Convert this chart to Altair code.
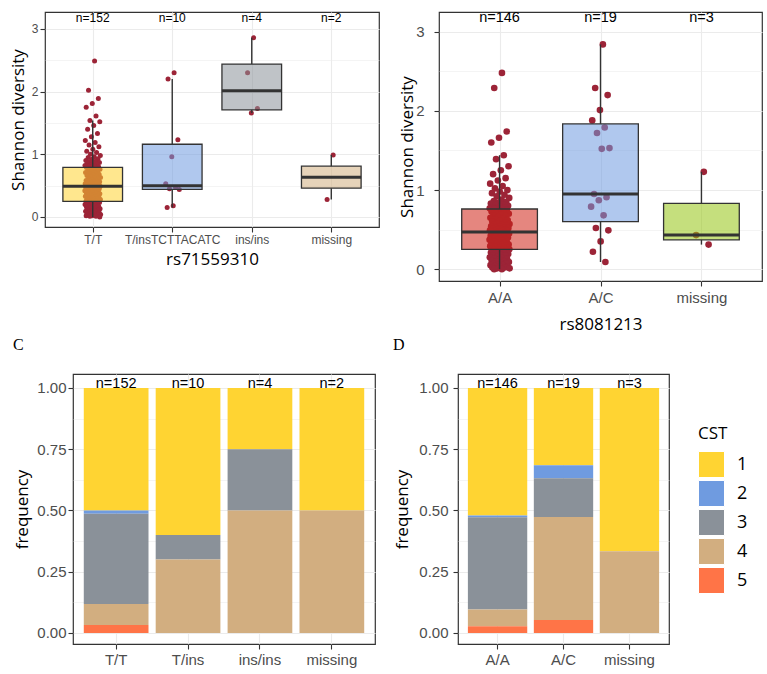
import json

import altair as alt
import pandas as pd

# ---------------- rs71559310 ----------------
snp1_box_levels = ["T/T", "T/insTCTTACATC", "ins/ins", "missing"]
snp1_bar_levels = ["T/T", "T/ins", "ins/ins", "missing"]

shannon_tt = [
    2.49, 2.02, 1.89, 1.81, 1.75, 1.61, 1.54, 1.52, 1.46, 1.40,
    1.33, 1.28, 1.22, 1.19, 1.15, 1.12, 1.08, 1.05, 1.03, 1.00,
    0.98, 0.96, 0.95, 0.93, 0.92, 0.90, 0.89, 0.88, 0.87, 0.86,
    0.85, 0.84, 0.83, 0.82, 0.81, 0.81, 0.80, 0.80,
    0.79, 0.78, 0.77, 0.76, 0.75, 0.74, 0.73, 0.72, 0.71, 0.70,
    0.69, 0.68, 0.67, 0.66, 0.65, 0.64, 0.63, 0.62, 0.61, 0.60,
    0.59, 0.58, 0.58, 0.57, 0.56, 0.56, 0.55, 0.55, 0.54, 0.53,
    0.53, 0.52, 0.52, 0.51, 0.51, 0.50, 0.50, 0.49,
    0.49, 0.48, 0.48, 0.47, 0.47, 0.46, 0.46, 0.45, 0.45, 0.44,
    0.44, 0.43, 0.42, 0.42, 0.41, 0.40, 0.40, 0.39, 0.38, 0.37,
    0.37, 0.36, 0.35, 0.34, 0.34, 0.33, 0.32, 0.31, 0.31, 0.30,
    0.29, 0.29, 0.28, 0.28, 0.27, 0.27, 0.26, 0.26,
    0.25, 0.25, 0.24, 0.23, 0.23, 0.22, 0.21, 0.20, 0.20, 0.19,
    0.18, 0.17, 0.16, 0.16, 0.15, 0.14, 0.13, 0.12, 0.12, 0.11,
    0.10, 0.09, 0.09, 0.08, 0.07, 0.07, 0.06, 0.05, 0.05, 0.04,
    0.04, 0.03, 0.03, 0.02, 0.02, 0.01, 0.01, 0.00,
]
shannon_t_ins = [2.30, 2.20, 1.23, 0.96, 0.53, 0.47, 0.45, 0.44, 0.18, 0.15]
shannon_ins_ins = [2.86, 2.30, 1.73, 1.66]
shannon_snp1_missing = [0.99, 0.28]

snp1_q1 = [0.25, 0.44, 1.71, 0.46]
snp1_median = [0.49, 0.50, 2.015, 0.635]
snp1_q3 = [0.79, 1.16, 2.44, 0.81]
snp1_whisker_lo = [0.00, 0.15, 1.66, 0.28]
snp1_whisker_hi = [1.54, 2.20, 2.86, 0.99]
snp1_box_colors = ["#FFD432", "#6F9BE0", "#8A9199", "#D2AE80"]

# ---------------- rs8081213 ----------------
snp2_levels = ["A/A", "A/C", "missing"]

shannon_aa = [
    2.48, 2.29, 1.74, 1.66, 1.60, 1.44, 1.39, 1.30, 1.25, 1.20,
    1.15, 1.12, 1.08, 1.05, 1.02, 1.00, 0.98, 0.96, 0.94, 0.92,
    0.90, 0.88, 0.86, 0.85, 0.84, 0.83, 0.82, 0.81, 0.80, 0.79,
    0.78, 0.78, 0.77, 0.77, 0.76, 0.76,
    0.75, 0.74, 0.73, 0.72, 0.71, 0.70, 0.69, 0.68, 0.67, 0.66,
    0.65, 0.64, 0.63, 0.62, 0.61, 0.60, 0.59, 0.58, 0.57, 0.56,
    0.56, 0.55, 0.54, 0.54, 0.53, 0.52, 0.52, 0.51, 0.51, 0.50,
    0.50, 0.49, 0.49, 0.48, 0.48, 0.47, 0.47,
    0.46, 0.46, 0.45, 0.45, 0.44, 0.43, 0.43, 0.42, 0.41, 0.41,
    0.40, 0.39, 0.39, 0.38, 0.37, 0.37, 0.36, 0.35, 0.35, 0.34,
    0.33, 0.33, 0.32, 0.31, 0.31, 0.30, 0.30, 0.29, 0.29, 0.28,
    0.28, 0.27, 0.27, 0.26, 0.26, 0.25,
    0.25, 0.24, 0.24, 0.23, 0.22, 0.21, 0.21, 0.20, 0.19, 0.18,
    0.17, 0.17, 0.16, 0.15, 0.14, 0.13, 0.13, 0.12, 0.11, 0.10,
    0.10, 0.09, 0.08, 0.07, 0.07, 0.06, 0.05, 0.05, 0.04, 0.03,
    0.03, 0.02, 0.02, 0.01, 0.01, 0.00, 0.00,
]
shannon_ac = [2.84, 2.29, 2.20, 2.01, 1.88, 1.79, 1.72, 1.53, 1.52, 0.95,
              0.91, 0.87, 0.79, 0.68, 0.52, 0.49, 0.35, 0.22, 0.09]
shannon_snp2_missing = [1.23, 0.43, 0.31]

snp2_q1 = [0.25, 0.60, 0.37]
snp2_median = [0.47, 0.95, 0.43]
snp2_q3 = [0.76, 1.835, 0.83]
snp2_whisker_lo = [0.00, 0.09, 0.31]
snp2_whisker_hi = [1.44, 2.84, 1.23]
snp2_box_colors = ["#CF2216", "#6F9BE0", "#95C412"]

# ---------------- CST composition (counts of CST 1..5) ----------------
cst_levels = ["1", "2", "3", "4", "5"]
cst_colors = ["#FFD432", "#6F9BE0", "#8A9199", "#D2AE80", "#FF7447"]
cst_snp1 = {
    "T/T": [76, 2, 56, 13, 5],
    "T/ins": [6, 0, 1, 3, 0],
    "ins/ins": [1, 0, 1, 2, 0],
    "missing": [1, 0, 0, 1, 0],
}
cst_snp2 = {
    "A/A": [76, 1, 55, 10, 4],
    "A/C": [6, 1, 3, 8, 1],
    "missing": [2, 0, 0, 1, 0],
}

POINT_COLOR = "#9C2437"
DARK = "#333333"
GRID = "#EBEBEB"
LABEL_FONT = "Liberation Sans"
TITLE_FONT = "Open Sans"


def minor_cond(step, major, minor):
    test = f"abs(datum.value / {step} - round(datum.value / {step})) > 0.001"
    return {"condition": {"test": test, "value": minor}, "value": major}


def spacer(w):
    """Empty, invisible cell used to set gaps between panels."""
    return (
        alt.Chart(pd.DataFrame({"v": [0]}))
        .mark_rule(opacity=0, strokeWidth=0.1)
        .encode(x=alt.value(0), x2=alt.value(w), y=alt.value(0))
        .properties(width=w, height=1,
                    view=alt.ViewBackground(stroke="transparent", strokeWidth=0))
    )


def box_panel(levels, groups, q1, med, q3, lo, hi, fills, *, width, height,
              ydomain, xtitle, tick_font, n_font, pt_size, y_extent, y_tpad,
              y_lpad, x_lpad, x_tpad):
    n = len(levels)
    pts = pd.DataFrame([
        {"g": lev, "idx": i + 1, "shannon": v}
        for i, (lev, vals) in enumerate(zip(levels, groups)) for v in vals
    ])
    stats = pd.DataFrame({"g": levels, "idx": list(range(1, n + 1)),
                          "q1": q1, "med": med, "q3": q3, "lo": lo, "hi": hi})
    xs = alt.Scale(domain=[0.4, n + 0.6], nice=False, zero=False)
    ys = alt.Scale(domain=ydomain, nice=False, zero=False)
    xaxis = alt.Axis(values=list(range(1, n + 1)),
                     labelExpr=json.dumps(levels) + "[datum.value - 1]",
                     grid=True, gridWidth=1.1, tickSize=5, labelAngle=0,
                     labelPadding=x_lpad, labelFontSize=tick_font,
                     labelOverlap=False, labelFlush=False,
                     titleFontSize=17, titlePadding=x_tpad)
    yaxis = alt.Axis(values=[0, 0.5, 1, 1.5, 2, 2.5, 3],
                     labelExpr="datum.value % 1 === 0 ? format(datum.value, 'd') : ''",
                     tickOpacity=minor_cond(1, 1, 0),
                     gridWidth=minor_cond(1, 1.1, 0.55),
                     grid=True, tickSize=5, labelPadding=y_lpad,
                     labelFontSize=tick_font, labelFlush=False,
                     minExtent=y_extent, maxExtent=y_extent,
                     titleFontSize=17, titlePadding=y_tpad)

    def X(f):
        return alt.X(f, scale=xs, axis=xaxis, title=xtitle)

    def Y(f):
        return alt.Y(f, scale=ys, axis=yaxis, title="Shannon diversity")

    points = (
        alt.Chart(pts)
        .transform_window(rank="row_number()", groupby=["g"])
        .transform_calculate(jx="datum.idx + ((datum.rank * 0.618034) % 1 - 0.5) * 0.2")
        .mark_circle(size=pt_size, color=POINT_COLOR, opacity=1)
        .encode(x=X("jx:Q"), y=Y("shannon:Q"))
    )
    base = alt.Chart(stats).transform_calculate(
        xl="datum.idx - 0.375", xr="datum.idx + 0.375")
    w_lo = base.mark_rule(color=DARK, strokeWidth=1.4).encode(
        x=X("idx:Q"), y=Y("lo:Q"), y2="q1:Q")
    w_hi = base.mark_rule(color=DARK, strokeWidth=1.4).encode(
        x=X("idx:Q"), y=Y("q3:Q"), y2="hi:Q")
    box = base.mark_rect(fillOpacity=0.55, stroke=DARK, strokeWidth=1.3).encode(
        x=X("xl:Q"), x2="xr:Q", y=Y("q1:Q"), y2="q3:Q",
        fill=alt.Fill("g:N", scale=alt.Scale(domain=levels, range=fills), legend=None))
    median = base.mark_rule(color=DARK, strokeWidth=3).encode(
        x=X("xl:Q"), x2="xr:Q", y=Y("med:Q"))
    nlab = (
        alt.Chart(pts)
        .transform_aggregate(n="count()", groupby=["g", "idx"])
        .transform_calculate(label="'n=' + datum.n")
        .mark_text(font=LABEL_FONT, fontSize=n_font, color="black", baseline="middle")
        .encode(x=X("idx:Q"), y=alt.value(6), text="label:N")
    )
    return alt.layer(points, w_lo, w_hi, box, median, nlab).properties(
        width=width, height=height)


def bar_panel(levels, counts, *, width, height, legend, title, y_extent,
              y_tpad, y_lpad):
    rows = pd.DataFrame([
        {"g": g, "cst": c, "count": k}
        for g in levels for c, k in zip(cst_levels, counts[g])
    ])
    xs = alt.Scale(domain=levels, paddingInner=0.1, paddingOuter=0.15)
    ys = alt.Scale(domain=[-0.045, 1.057], nice=False, zero=False)
    xaxis = alt.Axis(labelAngle=0, grid=True, gridWidth=1.1, tickSize=5,
                     labelPadding=3, labelFontSize=15)
    yaxis = alt.Axis(values=[0, 0.125, 0.25, 0.375, 0.5, 0.625, 0.75, 0.875, 1],
                     labelExpr="abs(datum.value * 4 - round(datum.value * 4)) < 0.001 ? format(datum.value, '.2f') : ''",
                     tickOpacity=minor_cond(0.25, 1, 0),
                     gridWidth=minor_cond(0.25, 1.1, 0.55),
                     grid=True, tickSize=5, labelPadding=y_lpad,
                     labelFontSize=15, labelFlush=False,
                     minExtent=y_extent, maxExtent=y_extent,
                     titleFontSize=17, titlePadding=y_tpad)
    x_enc = alt.X("g:N", sort=levels, scale=xs, axis=xaxis, title=None)
    bars = alt.Chart(rows).mark_bar().encode(
        x=x_enc,
        y=alt.Y("count:Q", stack="normalize", scale=ys, axis=yaxis, title="frequency"),
        color=alt.Color("cst:N", scale=alt.Scale(domain=cst_levels, range=cst_colors),
                        legend=legend),
        order=alt.Order("cst:N", sort="descending"),
    )
    nlab = (
        alt.Chart(rows)
        .transform_aggregate(n="sum(count)", groupby=["g"])
        .transform_calculate(label="'n=' + datum.n")
        .mark_text(font=LABEL_FONT, fontSize=14.5, color="black", baseline="alphabetic")
        .encode(x=x_enc, y=alt.value(13.5), text="label:N")
    )
    return alt.layer(bars, nlab).properties(
        width=width, height=height,
        title=alt.TitleParams(title, anchor="start", frame="bounds",
                              font="Liberation Serif", fontSize=16,
                              fontWeight="normal", color="black", offset=21))


panel_a = box_panel(
    snp1_box_levels,
    [shannon_tt, shannon_t_ins, shannon_ins_ins, shannon_snp1_missing],
    snp1_q1, snp1_median, snp1_q3, snp1_whisker_lo, snp1_whisker_hi, snp1_box_colors,
    width=334, height=215, ydomain=[-0.16, 3.27], xtitle="rs71559310",
    tick_font=12, n_font=12, pt_size=25, y_extent=14, y_tpad=4, y_lpad=2,
    x_lpad=2, x_tpad=6)

panel_b = box_panel(
    snp2_levels,
    [shannon_aa, shannon_ac, shannon_snp2_missing],
    snp2_q1, snp2_median, snp2_q3, snp2_whisker_lo, snp2_whisker_hi, snp2_box_colors,
    width=323, height=269, ydomain=[-0.15, 3.25], xtitle="rs8081213",
    tick_font=15, n_font=14.5, pt_size=44, y_extent=23, y_tpad=0, y_lpad=10,
    x_lpad=4, x_tpad=11)

cst_legend = alt.Legend(
    title="CST", orient="none", legendX=240, legendY=52,
    symbolType="square", symbolSize=676, symbolStrokeColor="white",
    symbolStrokeWidth=1, symbolOpacity=1, rowPadding=-3, labelOffset=12,
    titleFont=TITLE_FONT, titleFontSize=17, titleFontWeight="normal",
    titleColor="black", titlePadding=8,
    labelFont=TITLE_FONT, labelFontSize=18, labelColor="black")

panel_c = bar_panel(snp1_bar_levels, cst_snp1, width=302, height=270, legend=None,
                    title="C", y_extent=37, y_tpad=5, y_lpad=2)
panel_d = bar_panel(snp2_levels, cst_snp2, width=211, height=270, legend=cst_legend,
                    title="D", y_extent=39, y_tpad=8, y_lpad=5)

# each row starts with a spacer so the two rows keep their own left margins
top = alt.hconcat(spacer(8), panel_a, spacer(17), panel_b, spacing=0).resolve_scale(
    x="independent", y="independent", fill="independent")
bottom = alt.hconcat(spacer(12), panel_c, spacer(16), panel_d, spacing=0).resolve_scale(
    x="independent", y="independent", color="independent")

chart = (
    alt.vconcat(top, bottom, spacing=3)
    .properties(padding={"left": 0, "top": 9, "right": 4, "bottom": 4},
                background="white")
    .configure_view(stroke=DARK, strokeWidth=1.2)
    .configure_axis(domain=False, tickColor=DARK, tickWidth=1.1,
                    labelColor="#4D4D4D", labelFont=LABEL_FONT,
                    gridColor=GRID, titleFont=TITLE_FONT, titleColor="black",
                    titleFontWeight="normal")
)

chart.save("out.html", embed_options={"renderer": "svg", "actions": False})
